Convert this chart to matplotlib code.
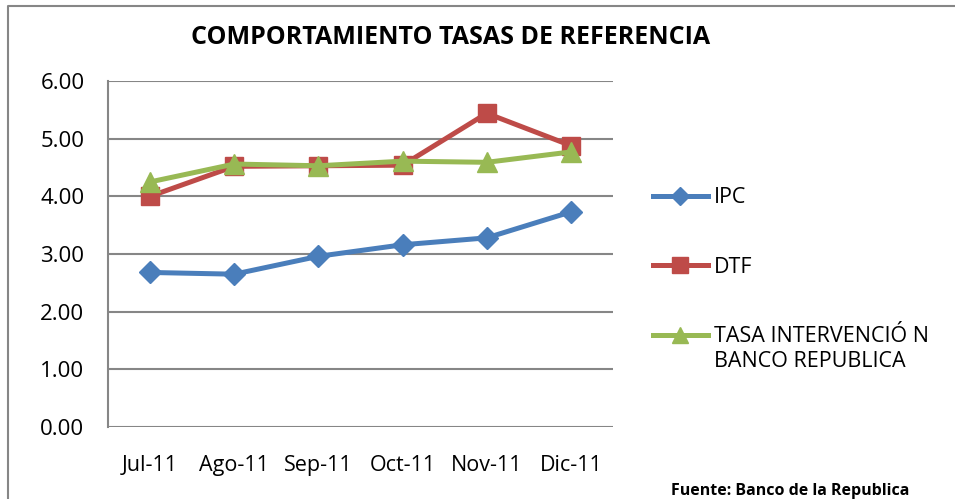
import numpy as np
import matplotlib.pyplot as plt
from matplotlib.lines import Line2D

# Datos
meses = ["Jul-11", "Ago-11", "Sep-11", "Oct-11", "Nov-11", "Dic-11"]
ipc = [2.68, 2.65, 2.96, 3.16, 3.28, 3.73]
dtf = [4.00, 4.52, 4.53, 4.54, 5.44, 4.88]
tasa = [4.25, 4.56, 4.53, 4.61, 4.59, 4.77]
yticks = [0, 1, 2, 3, 4, 5, 6]

plt.rcParams['font.family'] = ['Open Sans', 'DejaVu Sans']

fig = plt.figure(figsize=(9.55, 4.99), dpi=100)
ax = fig.add_axes([108/955, 72/499, 505/955, 346/499])

x = np.arange(len(meses))
ax.plot(x, ipc, color="#4a7ebb", lw=3.6, marker="D", ms=11, label="IPC")
ax.plot(x, dtf, color="#be4b48", lw=3.6, marker="s", ms=13, label="DTF")
ax.plot(x, tasa, color="#98b954", lw=3.6, marker="^", ms=14, label="TASA INTERVENCIÓ N")

ax.set_xlim(-0.5, len(meses) - 0.5)
ax.set_ylim(0, 6)
ax.set_yticks(yticks)
ax.set_yticklabels([f"{v:.2f}" for v in yticks], fontsize=16)
ax.set_xticks(x)
ax.set_xticklabels(meses, fontsize=15.5)
ax.tick_params(length=0)
ax.tick_params(axis="y", pad=17)
ax.tick_params(axis="x", pad=20)
ax.yaxis.grid(True, color="#868686", lw=1.5)
ax.set_axisbelow(True)
for s in ["top", "right", "bottom"]:
    ax.spines[s].set_visible(False)
ax.spines["left"].set_color("#868686")
ax.spines["left"].set_linewidth(1.5)

# Leyenda (la segunda línea de la tercera entrada va debajo)
leg = ax.legend(loc="upper left", bbox_to_anchor=(1.079, 0.693), frameon=False,
                fontsize=15.5, handlelength=2.56, labelspacing=2.25, handletextpad=0.28,
                borderpad=0, borderaxespad=0, markerscale=0.85)
ax.annotate("BANCO REPUBLICA", xy=(0, 0), xycoords=leg.get_texts()[2],
            xytext=(0, -4), textcoords="offset pixels", ha="left", va="top",
            fontsize=15.5, zorder=10, annotation_clip=False)

# Título
fig.text(451/955, 1 - 37/499, "COMPORTAMIENTO TASAS DE REFERENCIA", ha="center", va="center",
         fontsize=18, fontweight="bold")
fig.text(790/955, 1 - 491/499, "Fuente: Banco de la Republica", ha="center", va="center",
         fontsize=11.5, fontweight="bold")

# Marco
fig.add_artist(Line2D([8/955, 8/955, 1], [0, 1 - 5.5/499, 1 - 5.5/499], color="#868686", lw=1.5))

plt.savefig("out.png")
